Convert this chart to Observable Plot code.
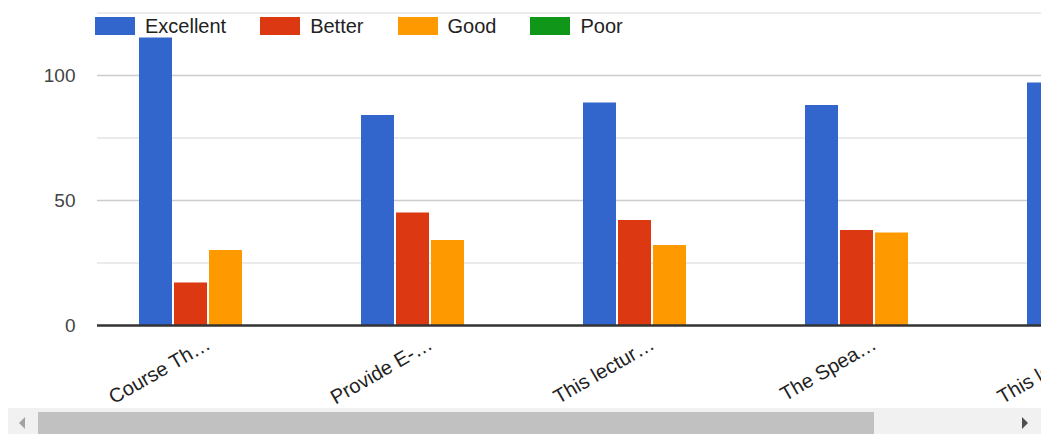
<!DOCTYPE html>
<html>
<head>
<meta charset="utf-8">
<script src="https://cdn.jsdelivr.net/npm/d3@7"></script>
<script src="https://cdn.jsdelivr.net/npm/@observablehq/plot@0.6"></script>
<style>
  html, body { margin: 0; padding: 0; background: #fff; }
  body { width: 1041px; height: 434px; overflow: hidden; font-family: "Liberation Sans", Arial, sans-serif; }
  #wrap { position: relative; width: 1041px; height: 408px; overflow: hidden; }
  #wrap svg { overflow: hidden; max-width: none !important; }
  #legend { position: absolute; left: 95px; top: 17px; display: flex; align-items: center; height: 18px; }
  .item { display: flex; align-items: center; margin-right: 34px; }
  .sw { width: 40px; height: 18px; margin-right: 10px; }
  .lab { font-size: 20px; color: #222; line-height: 18px; }
  #scroll { position: absolute; left: 8px; top: 408px; width: 1033px; height: 26px; background: #f1f1f1; }
  #thumb { position: absolute; left: 30px; top: 4px; width: 836px; height: 22px; background: #c1c1c1; }
  #al { position: absolute; left: 11px; top: 9px; width: 0; height: 0; border-top: 6px solid transparent; border-bottom: 6px solid transparent; border-right: 6px solid #a3a3a3; }
  #ar { position: absolute; left: 1014px; top: 9px; width: 0; height: 0; border-top: 6px solid transparent; border-bottom: 6px solid transparent; border-left: 6px solid #505050; }
</style>
</head>
<body>
<div id="wrap"><div id="legend"></div></div>
<div id="scroll"><div id="thumb"></div><div id="al"></div><div id="ar"></div></div>
<script>
const categories = ["Course Th…", "Provide E-…", "This lectur…", "The Spea…", "This lectur…"];
const series = ["Excellent", "Better", "Good", "Poor"];
const colors = ["#3366cc", "#dc3912", "#ff9900", "#109618"];
const excellent = [115, 84, 89, 88, 97];
const better = [17, 45, 42, 38];
const good = [30, 34, 32, 37];
const poor = [0, 0, 0, 0];
const yTicks = [0, 50, 100];
const minorGrid = [25, 75, 125];
const majorGrid = [50, 100];

const valuesBySeries = [excellent, better, good, poor];
const rows = [];
categories.forEach((c, i) => {
  series.forEach((s, j) => {
    const v = valuesBySeries[j][i];
    if (v != null) rows.push({idx: i, series: s, value: v});
  });
});

const chart = Plot.plot({
  width: 1209,
  height: 408,
  marginLeft: 95,
  marginRight: 0,
  marginTop: 12.5,
  marginBottom: 83,
  style: {fontFamily: "Liberation Sans, Arial, sans-serif", background: "transparent"},
  fx: {domain: d3.range(categories.length), padding: 0, label: null},
  x: {domain: series, paddingInner: 0.05, paddingOuter: 1.15, axis: null},
  y: {domain: [0, 125], axis: null},
  color: {domain: series, range: colors},
  marks: [
    Plot.ruleY(minorGrid, {stroke: "#e4e4e4", strokeWidth: 1.5}),
    Plot.ruleY(majorGrid, {stroke: "#cccccc", strokeWidth: 1.5}),
    Plot.barY(rows, {fx: "idx", x: "series", y: "value", fill: "series"}),
    Plot.ruleY([0], {stroke: "#333333", strokeWidth: 2.5}),
    Plot.axisY({ticks: yTicks, tickSize: 0, tickPadding: 22, fontSize: 19, fill: "#444", label: null}),
    Plot.axisFx({anchor: "bottom", tickRotate: -30, tickSize: 0, tickPadding: 17, fontSize: 20, fill: "#222", label: null, tickFormat: i => categories[i]})
  ]
});
document.getElementById("wrap").insertBefore(chart, document.getElementById("legend"));

const legend = d3.select("#legend");
series.forEach((s, i) => {
  const it = legend.append("div").attr("class", "item");
  it.append("div").attr("class", "sw").style("background", colors[i]);
  it.append("span").attr("class", "lab").text(s);
});
</script>
</body>
</html>
